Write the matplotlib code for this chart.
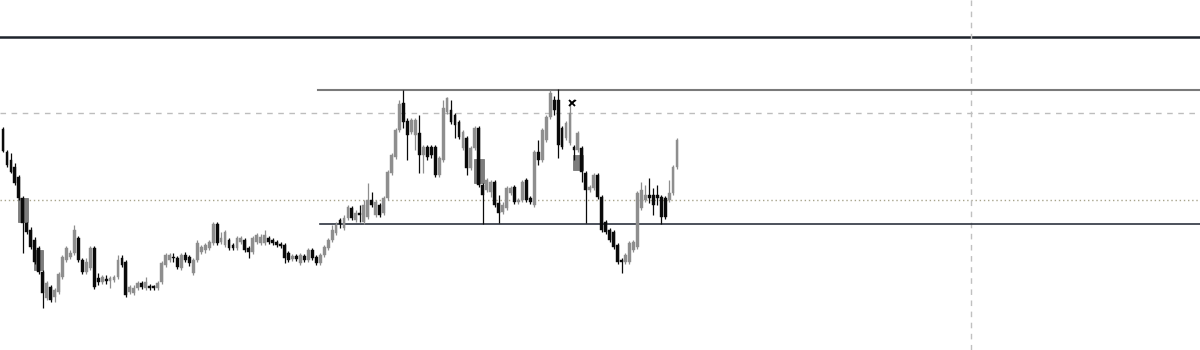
import matplotlib
matplotlib.use("Agg")
import matplotlib.pyplot as plt
from matplotlib.patches import Rectangle
import numpy as np

opens = [271,248,240,233,223,202,177,170,160,152,128,102,113,103,108,123,140,143,147,162,
         140,128,132,152,122,118,121,119,120,123,142,138,108,107,112,117,112,114,114,112,
         118,135,140,143,142,132,145,143,127,140,148,150,152,157,176,158,155,160,155,152,
         158,160,152,148,158,157,157,162,160,158,156,155,147,141,144,137,144,140,150,143,
         137,145,152,160,167,180,172,182,192,180,187,178,183,200,185,195,187,202,227,243,
         270,297,279,268,265,267,245,253,253,253,225,240,288,290,285,278,252,262,232,252,
         272,215,210,208,218,197,188,192,207,213,198,200,220,202,195,248,240,260,283,300,
         300,272,262,257,253,250,252,227,210,212,225,203,178,170,168,155,140,138,138,150,
         153,192,200,205,205,205,203,202,200,207,233]
highs = [273,250,247,237,225,204,178,173,163,154,130,119,115,112,128,145,154,150,175,164,
         142,142,154,154,127,125,125,124,125,145,145,140,115,115,119,119,123,116,115,119,
         139,147,147,147,144,147,148,145,142,160,155,157,160,178,178,168,170,162,157,164,
         164,162,154,164,167,166,170,164,162,160,158,157,149,146,146,147,146,152,152,145,
         147,155,162,175,178,182,185,195,194,190,195,200,217,208,200,197,204,230,247,272,
         300,310,282,282,282,285,255,255,255,255,244,300,303,300,287,280,270,264,254,274,
         274,217,222,220,220,205,198,214,214,215,202,220,222,204,250,260,272,285,310,304,
         311,274,279,300,255,269,254,229,215,227,227,205,180,172,170,157,142,147,159,160,
         209,218,215,222,212,215,205,204,220,235,262]
lows = [248,233,227,215,200,147,166,151,136,126,92,100,98,98,106,121,138,141,145,138,
        126,126,130,111,115,116,116,112,118,121,133,103,106,105,110,111,110,110,110,110,
        116,133,138,138,131,130,138,134,125,138,146,147,150,155,155,156,153,150,150,150,
        156,148,142,146,156,155,155,156,155,153,152,137,138,139,139,135,138,138,140,135,
        135,143,150,158,165,172,170,180,180,178,178,176,181,193,183,183,185,200,225,241,
        268,272,240,266,250,227,227,240,242,223,223,238,286,276,262,261,250,225,230,250,
        213,176,208,203,193,177,186,190,205,196,196,198,198,196,193,235,238,258,281,285,
        242,251,260,255,240,248,218,177,208,210,201,168,166,158,151,136,127,136,136,148,
        151,190,198,197,185,195,176,181,198,205,231]
closes = [249,235,228,217,202,177,168,153,138,128,107,117,100,110,126,143,152,147,170,140,
          128,138,152,113,118,123,119,122,123,140,135,105,113,112,117,113,118,112,112,117,
          137,145,145,142,133,145,140,137,140,157,153,155,158,176,157,162,168,152,152,162,
          162,150,148,162,165,163,165,158,157,155,154,142,140,144,141,145,140,150,142,137,
          145,153,160,170,175,176,182,193,182,187,185,195,200,195,198,185,202,228,245,270,
          296,278,265,280,280,245,253,243,245,225,242,292,302,278,275,263,268,232,252,272,
          215,205,220,218,195,187,195,212,212,198,200,218,200,198,248,240,270,283,307,290,
          255,253,277,287,250,267,228,210,213,225,203,170,168,160,153,138,138,145,157,158,
          207,210,205,202,195,202,183,183,207,233,260]

wide_bars = [5, 9, 120, 145]            # candles drawn with a wide grey box behind
wide_tops = [202, 150, 241, 245]
wide_bots = [178, 130, 217, 230]

top_line = 363
resistance = 310
dashed_level = 287
dotted_level = 200
support = 176
zone_start = 79.4
vline_bar = 244.1
marker_bar, marker_price = 143.5, 297

fig = plt.figure(figsize=(12, 3.5), dpi=100)
ax = fig.add_axes([0, 0, 1, 1])
ax.set_xlim(-0.757, 301.9)
ax.set_ylim(50, 400)
ax.axis("off")

GREY = "#8e8e8e"
BLACK = "#0a0a0a"

# reference lines
ax.axhline(top_line, color="#1e242c", lw=1.8, zorder=1)
ax.axhline(dashed_level, color="#bdbdbd", lw=1.0, ls=(0, (4, 4)), zorder=1)
ax.axhline(dotted_level, color="#a8a48c", lw=1.0, ls=(0, (1, 2)), zorder=1)
ax.axvline(vline_bar, color="#c0c0c0", lw=1.0, ls=(0, (4, 4)), zorder=1)
ax.plot([zone_start, 302], [resistance, resistance], color="#7a7a7a", lw=1.5, zorder=1)
ax.plot([zone_start + 0.6, 302], [support, support], color="#2e3440", lw=1.2, zorder=1)

# wide boxes
for b, t, bo in zip(wide_bars, wide_tops, wide_bots):
    ax.add_patch(Rectangle((b - 1.2, bo), 2.4, t - bo, facecolor="#7d7d7d",
                           edgecolor="#6a6a6a", lw=0.5, zorder=2))

# candles
w = 0.72
for i, (o, h, l, c) in enumerate(zip(opens, highs, lows, closes)):
    col = GREY if c >= o else BLACK
    ax.plot([i, i], [l, h], color=col, lw=0.9, zorder=3, solid_capstyle="butt")
    lo, hi = min(o, c), max(o, c)
    if hi - lo < 1.2:
        hi = lo + 1.2
    ax.add_patch(Rectangle((i - w / 2, lo), w, hi - lo, facecolor=col,
                           edgecolor=col, lw=0.3, zorder=4))

# close marker
ax.plot([marker_bar], [marker_price], marker="x", color="black", ms=5, mew=1.3, zorder=5)
ax.plot([marker_bar, marker_bar + 0.9], [marker_price, marker_price + 2.5],
        color="black", lw=1.0, zorder=5)

fig.savefig("out.png", dpi=100)
